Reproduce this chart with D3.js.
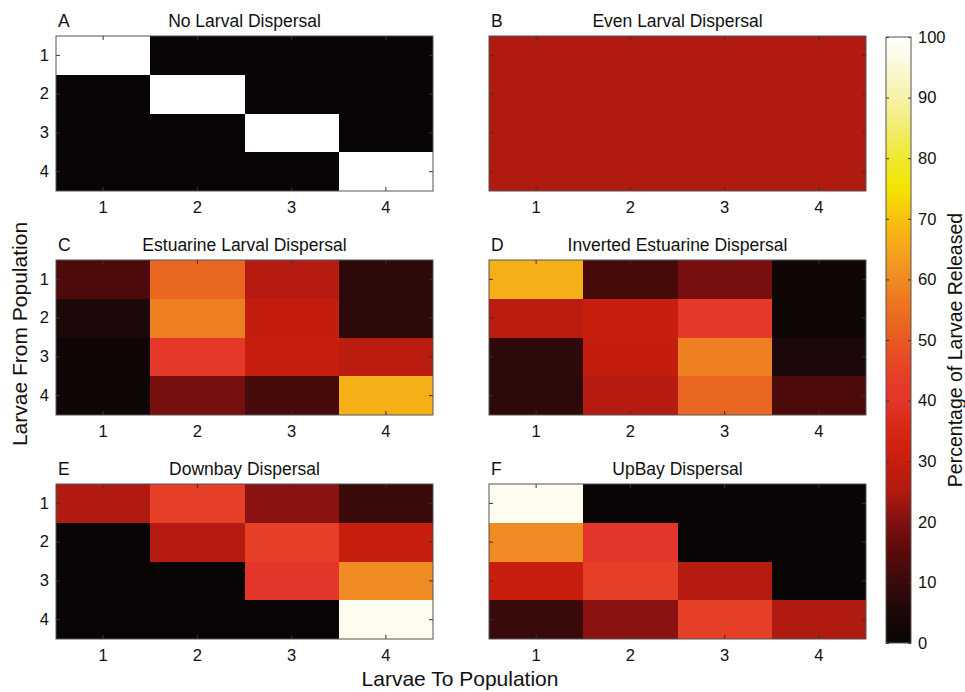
<!DOCTYPE html>
<html>
<head>
<meta charset="utf-8">
<script src="https://cdn.jsdelivr.net/npm/d3@7/dist/d3.min.js"></script>
<style>
  html, body { margin: 0; padding: 0; background: #fff; }
  svg { display: block; }
  text { font-family: "Liberation Sans", Arial, Helvetica, sans-serif; fill: #111; }
</style>
</head>
<body>
<svg id="chart" width="965" height="692"></svg>
<script>
// ---------------- DATA ----------------
const populations = ["1", "2", "3", "4"];
const panelLetters = ["A", "B", "C", "D", "E", "F"];
const panelTitles = [
  "No Larval Dispersal",
  "Even Larval Dispersal",
  "Estuarine Larval Dispersal",
  "Inverted Estuarine Dispersal",
  "Downbay Dispersal",
  "UpBay Dispersal"
];
// rows = larvae from population, columns = larvae to population (percent)
const noDispersal = [
  [100, 0, 0, 0],
  [0, 100, 0, 0],
  [0, 0, 100, 0],
  [0, 0, 0, 100]
];
const evenDispersal = [
  [25, 25, 25, 25],
  [25, 25, 25, 25],
  [25, 25, 25, 25],
  [25, 25, 25, 25]
];
const estuarineDispersal = [
  [13, 53, 26, 8],
  [5, 58, 29, 8],
  [2, 41, 30, 27],
  [2, 19, 12, 67]
];
const invertedEstuarineDispersal = [
  [67, 12, 19, 2],
  [27, 30, 41, 2],
  [8, 29, 58, 5],
  [8, 26, 53, 13]
];
const downbayDispersal = [
  [25, 44, 21, 10],
  [0, 26, 44, 30],
  [0, 0, 40, 60],
  [0, 0, 0, 98]
];
const upbayDispersal = [
  [98, 0, 0, 0],
  [60, 40, 0, 0],
  [30, 44, 26, 0],
  [10, 21, 44, 25]
];
const panelMatrices = [noDispersal, evenDispersal, estuarineDispersal,
  invertedEstuarineDispersal, downbayDispersal, upbayDispersal];

const colorbarTicks = [0, 10, 20, 30, 40, 50, 60, 70, 80, 90, 100];
const xAxisLabel = "Larvae To Population";
const yAxisLabel = "Larvae From Population";
const colorbarLabel = "Percentage of Larvae Released";

// colormap (hot-like, sampled from the reference colour bar)
const cmapValues = [0, 5, 10, 15, 20, 25, 30, 35, 40, 45, 50, 55, 60, 65, 70, 75, 80, 85, 90, 95, 100];
const cmapColors = ["#0a0505", "#1c0808", "#3a0a0a", "#5a0a0a", "#801010", "#b01a10",
  "#c81e0e", "#d82612", "#e3352a", "#e64226", "#e85a22", "#ec7020", "#f08a22",
  "#f5a51c", "#f8c010", "#f5e400", "#f0e830", "#f2ec70", "#f7f2a8", "#fbf8d8", "#ffffff"];

// ---------------- LAYOUT ----------------
const svg = d3.select("#chart");
const colX = [56, 489];
const rowY = [36, 260, 484];
const pw = 377, ph = 155;

const color = d3.scaleLinear().domain(cmapValues).range(cmapColors)
  .interpolate(d3.interpolateRgb).clamp(true);

const x = d3.scaleBand().domain(populations).range([0, pw]).padding(0);
const y = d3.scaleBand().domain(populations).range([0, ph]).padding(0);

panelMatrices.forEach((mat, i) => {
  const col = i % 2, row = Math.floor(i / 2);
  const g = svg.append("g").attr("transform", `translate(${colX[col]},${rowY[row]})`);

  const cells = [];
  mat.forEach((r, ri) => r.forEach((v, ci) => cells.push({ from: populations[ri], to: populations[ci], v })));

  g.selectAll("rect.cell").data(cells).enter().append("rect")
    .attr("class", "cell")
    .attr("x", d => x(d.to))
    .attr("y", d => y(d.from))
    .attr("width", x.bandwidth())
    .attr("height", y.bandwidth())
    .attr("shape-rendering", "crispEdges")
    .attr("fill", d => color(d.v));

  // axes: ticks inward on all four sides
  const tickLen = 4;
  const bottom = g.append("g").attr("transform", `translate(0,${ph})`)
    .call(d3.axisBottom(x).tickSize(-tickLen).tickPadding(10));
  const top = g.append("g").call(d3.axisTop(x).tickSize(-tickLen).tickFormat(""));
  const right = g.append("g").attr("transform", `translate(${pw},0)`)
    .call(d3.axisRight(y).tickSize(-tickLen).tickFormat(""));
  const left = g.append("g").call(d3.axisLeft(y).tickSize(-tickLen).tickPadding(7)
    .tickFormat(col === 0 ? (d => d) : ""));
  [bottom, top, right, left].forEach(a => {
    a.select(".domain").remove();
    a.selectAll(".tick line").attr("stroke", "#333").attr("stroke-width", 1);
    a.selectAll("text").style("font-size", "16.5px").attr("fill", "#111");
  });
  bottom.selectAll("text").attr("dy", "0.71em");

  g.append("rect").attr("x", 0).attr("y", 0).attr("width", pw).attr("height", ph)
    .attr("fill", "none").attr("stroke", "#555").attr("stroke-width", 1);

  g.append("text").attr("x", pw / 2).attr("y", -9).attr("text-anchor", "middle")
    .style("font-size", "17.5px").text(panelTitles[i]);
  g.append("text").attr("x", 2).attr("y", -9).attr("text-anchor", "start")
    .style("font-size", "17.5px").text(panelLetters[i]);
});

// axis titles
svg.append("text").attr("x", 460).attr("y", 686).attr("text-anchor", "middle")
  .style("font-size", "21px").text(xAxisLabel);
svg.append("text").attr("transform", "translate(27,334) rotate(-90)")
  .attr("text-anchor", "middle").style("font-size", "21px").text(yAxisLabel);

// ---------------- COLOR BAR ----------------
const cbX = 886, cbW = 25, cbTop = 37, cbBot = 643;
const cbScale = d3.scaleLinear().domain([0, 100]).range([cbBot, cbTop]);
const defs = svg.append("defs");
const grad = defs.append("linearGradient").attr("id", "cbgrad")
  .attr("x1", 0).attr("y1", 1).attr("x2", 0).attr("y2", 0);
d3.range(0, 101, 1).forEach(v => {
  grad.append("stop").attr("offset", (v / 100)).attr("stop-color", color(v));
});
svg.append("rect").attr("x", cbX).attr("y", cbTop).attr("width", cbW).attr("height", cbBot - cbTop)
  .attr("fill", "url(#cbgrad)");
const cbAxisL = svg.append("g").attr("transform", `translate(${cbX},0)`)
  .call(d3.axisLeft(cbScale).tickValues(colorbarTicks).tickSize(-3).tickFormat(""));
const cbAxisR = svg.append("g").attr("transform", `translate(${cbX + cbW},0)`)
  .call(d3.axisRight(cbScale).tickValues(colorbarTicks).tickSize(-3).tickPadding(7));
[cbAxisL, cbAxisR].forEach(a => {
  a.select(".domain").remove();
  a.selectAll(".tick line").attr("stroke", "#333");
  a.selectAll("text").style("font-size", "16.5px").attr("fill", "#111");
});
svg.append("rect").attr("x", cbX).attr("y", cbTop).attr("width", cbW).attr("height", cbBot - cbTop)
  .attr("fill", "none").attr("stroke", "#555").attr("stroke-width", 1);
svg.append("text").attr("transform", `translate(962,350) rotate(-90)`)
  .attr("text-anchor", "middle").style("font-size", "19.5px").text(colorbarLabel);
</script>
</body>
</html>
